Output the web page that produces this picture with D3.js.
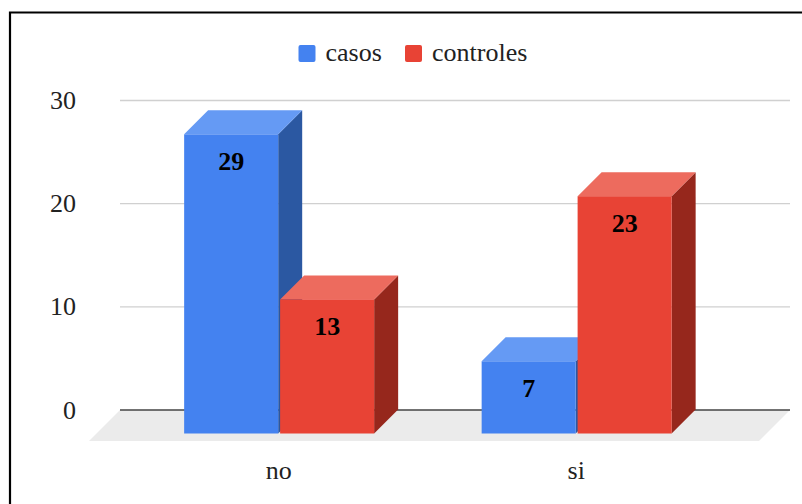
<!DOCTYPE html>
<html>
<head>
<meta charset="utf-8">
<script src="https://cdn.jsdelivr.net/npm/d3@7"></script>
<style>
  html, body { margin: 0; padding: 0; background: #fff; }
  svg { display: block; }
  text { font-family: "Liberation Serif", serif; }
</style>
</head>
<body>
<svg id="chart" width="802" height="504"></svg>
<script>
// Chart values
const categories = ["no", "si"];
const seriesNames = ["casos", "controles"];
const casos = [29, 7];
const controles = [13, 23];
const yTicks = [0, 10, 20, 30];

const seriesValues = { casos, controles };
const palette = {
  casos:     { front: "#4482f0", top: "#659af4", side: "#2b58a2" },
  controles: { front: "#e84335", top: "#ed6b5e", side: "#96271c" }
};

const svg = d3.select("#chart");
const depth = 24;            // oblique offset of the 3D extrusion
const floorY = 433.5;        // front edge of the bars

const plot = { left: 120, right: 790 };

const y = d3.scaleLinear().domain([0, 30]).range([410, 100.5]);
const barHeight = v => y(0) - y(v);

const x0 = d3.scaleBand().domain(categories).range([130, 725]);
const x1 = d3.scaleBand().domain(seriesNames).range([-94.6, 95.4]).paddingInner(0.02);

// Frame around the chart
svg.append("path")
  .attr("d", "M10,504V12.5H802")
  .attr("fill", "none").attr("stroke", "#000").attr("stroke-width", 2.2);

// Horizontal gridlines and tick labels
svg.append("g").selectAll("line")
  .data(yTicks.filter(d => d !== 0))
  .join("line")
  .attr("x1", plot.left).attr("x2", plot.right)
  .attr("y1", d => y(d)).attr("y2", d => y(d))
  .attr("stroke", "#d0d0d0").attr("stroke-width", 1.3);

svg.append("g").selectAll("text")
  .data(yTicks)
  .join("text")
  .attr("x", 76).attr("y", d => y(d))
  .attr("dy", "0.33em")
  .attr("text-anchor", "end")
  .attr("font-size", 26)
  .attr("fill", "#222")
  .text(d => d);

// Floor parallelogram
const floorDepth = 31;
svg.append("path")
  .attr("d", d3.line()([
    [plot.left, y(0)], [plot.right, y(0)],
    [plot.right - floorDepth, y(0) + floorDepth], [plot.left - floorDepth, y(0) + floorDepth]
  ]) + "Z")
  .attr("fill", "#ebebeb");

// Baseline
svg.append("line")
  .attr("x1", plot.left).attr("x2", plot.right)
  .attr("y1", y(0)).attr("y2", y(0))
  .attr("stroke", "#444").attr("stroke-width", 1.4);

// Bars as extruded boxes: side and top faces first, then the front face
const bars = categories.flatMap((c, i) =>
  seriesNames.map(s => ({ category: c, series: s, value: seriesValues[s][i] })));

const box = svg.append("g").selectAll("g")
  .data(bars)
  .join("g")
  .attr("transform", d => `translate(${x0(d.category) + x0.bandwidth() / 2 + x1(d.series)},0)`);

const w = x1.bandwidth();

box.append("path")
  .attr("d", d => {
    const t = floorY - barHeight(d.value);
    return d3.line()([[w, t], [w + depth, t - depth], [w + depth, floorY - depth], [w, floorY]]) + "Z";
  })
  .attr("fill", d => palette[d.series].side);

box.append("path")
  .attr("d", d => {
    const t = floorY - barHeight(d.value);
    return d3.line()([[0, t], [depth, t - depth], [w + depth, t - depth], [w, t]]) + "Z";
  })
  .attr("fill", d => palette[d.series].top);

box.append("rect")
  .attr("x", 0)
  .attr("y", d => floorY - barHeight(d.value))
  .attr("width", w)
  .attr("height", d => barHeight(d.value))
  .attr("fill", d => palette[d.series].front);

// Value labels inside the front faces
box.append("text")
  .attr("x", w / 2)
  .attr("y", d => floorY - barHeight(d.value) + 36)
  .attr("text-anchor", "middle")
  .attr("font-size", 26)
  .attr("font-weight", "bold")
  .attr("fill", "#000")
  .text(d => d.value);

// Category labels
svg.append("g").selectAll("text")
  .data(categories)
  .join("text")
  .attr("x", d => x0(d) + x0.bandwidth() / 2)
  .attr("y", 479)
  .attr("text-anchor", "middle")
  .attr("font-size", 26)
  .attr("fill", "#222")
  .text(d => d);

// Legend
const legendX = { casos: 298.5, controles: 405 };
const legend = svg.append("g").selectAll("g")
  .data(seriesNames)
  .join("g")
  .attr("transform", d => `translate(${legendX[d]},45)`);

legend.append("rect")
  .attr("width", 17).attr("height", 17).attr("rx", 2)
  .attr("fill", d => palette[d].front);

legend.append("text")
  .attr("x", 27).attr("y", 16)
  .attr("font-size", 26)
  .attr("fill", "#222")
  .text(d => d);
</script>
</body>
</html>
